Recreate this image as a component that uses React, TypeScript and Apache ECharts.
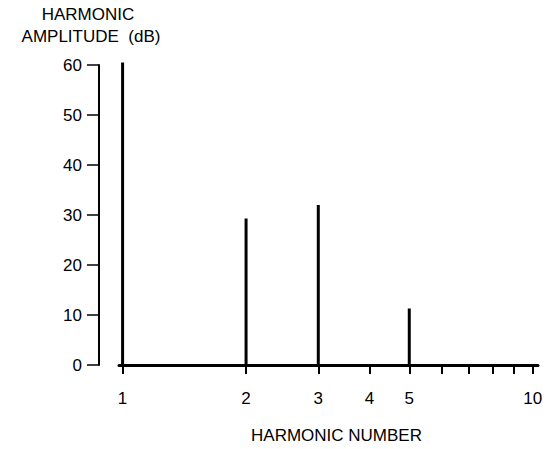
import React, { useEffect, useRef } from "react";
import * as echarts from "echarts";

const harmonics = [1, 2, 3, 5];
const amplitudes = [60.5, 29.3, 32, 11.3];
const xTickValues = [1, 2, 3, 4, 5, 6, 7, 8, 9, 10];
const xLabelValues = [1, 2, 3, 4, 5, 10];
const yTitleLine1 = "HARMONIC";
const yTitleLine2 = "AMPLITUDE  (dB)";
const xTitle = "HARMONIC NUMBER";

const FONT = "'Liberation Sans', Arial, sans-serif";

const titleStyle = {
  fontFamily: FONT,
  fontSize: 17,
  fontWeight: "normal",
  color: "#000",
  lineHeight: 22,
};

export default function App() {
  const ref = useRef<HTMLDivElement>(null);
  useEffect(() => {
    if (!ref.current) return;
    const chart = echarts.init(ref.current, undefined, { renderer: "svg" });
    const data = harmonics.map((h, i) => [h, amplitudes[i]]);
    chart.setOption({
      animation: false,
      backgroundColor: "#fff",
      title: [
        {
          text: yTitleLine1,
          left: 88,
          top: 3,
          padding: 0,
          textAlign: "center",
          textStyle: titleStyle,
        },
        {
          text: yTitleLine2,
          left: 91,
          top: 25,
          padding: 0,
          textAlign: "center",
          textStyle: titleStyle,
        },
      ],
      grid: { left: 119, right: 22, top: 65, bottom: 84 },
      xAxis: {
        type: "log",
        logBase: 10,
        min: 0.98,
        max: 10.3,
        name: xTitle,
        nameLocation: "middle",
        nameGap: 62,
        nameTextStyle: {
          fontFamily: FONT,
          fontSize: 17,
          color: "#000",
          padding: [0, 0, 0, 16],
        },
        axisLine: { show: true, lineStyle: { color: "#000", width: 3 } },
        axisTick: {
          show: true,
          length: 9,
          customValues: xTickValues,
          lineStyle: { color: "#000", width: 2 },
        },
        axisLabel: {
          customValues: xLabelValues,
          margin: 25,
          fontFamily: FONT,
          fontSize: 17,
          color: "#000",
        },
        splitLine: { show: false },
        minorTick: { show: false },
      },
      yAxis: {
        type: "value",
        min: 0,
        max: 60,
        interval: 10,
        offset: 20,
        axisLine: { show: true, lineStyle: { color: "#000", width: 2 } },
        axisTick: { show: true, length: 12, lineStyle: { color: "#000", width: 1.5 } },
        axisLabel: {
          margin: 17,
          fontFamily: FONT,
          fontSize: 17,
          color: "#000",
        },
        splitLine: { show: false },
      },
      series: [
        {
          type: "custom",
          data,
          renderItem: (params: any, api: any) => {
            const p0 = api.coord([api.value(0), 0]);
            const p1 = api.coord([api.value(0), api.value(1)]);
            return {
              type: "line",
              shape: { x1: p0[0], y1: p0[1], x2: p1[0], y2: p1[1] },
              style: { stroke: "#000", lineWidth: 3 },
            };
          },
        },
      ],
    });
    return () => chart.dispose();
  }, []);
  return (
    <div
      ref={ref}
      style={{ position: "fixed", left: 0, top: 0, width: 560, height: 449, background: "#fff" }}
    />
  );
}
